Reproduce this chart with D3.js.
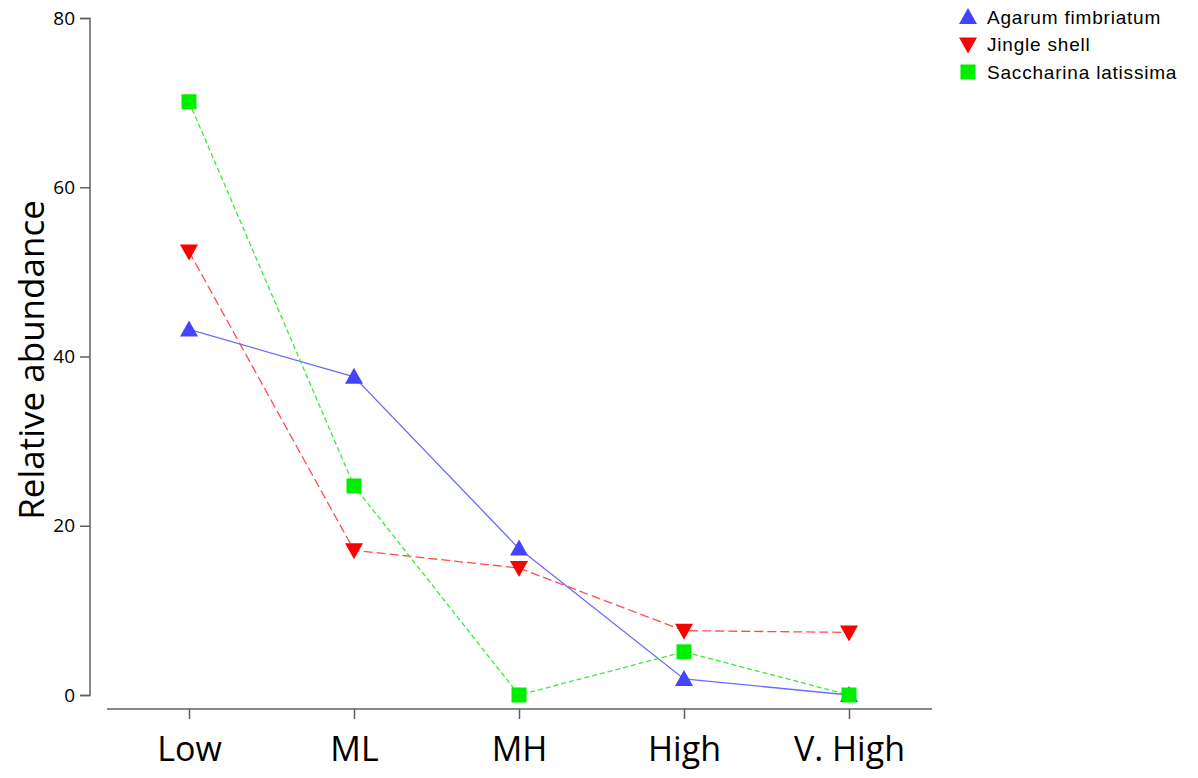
<!DOCTYPE html>
<html><head><meta charset="utf-8">
<script src="https://cdn.jsdelivr.net/npm/d3@7"></script>
<style>body{margin:0;background:#fff}svg{display:block}</style>
</head><body>
<svg id="c" width="1198" height="778"></svg>
<script>
const categories = ["Low", "ML", "MH", "High", "V. High"];
const agarum = [43.2, 37.6, 17.3, 1.9, 0];
const jingle = [52.4, 17.1, 15.0, 7.6, 7.4];
const saccharina = [70.1, 24.7, 0, 5.1, 0];
const yTicks = [0, 20, 40, 60, 80];
const seriesNames = ["Agarum fimbriatum", "Jingle shell", "Saccharina latissima"];

const svg = d3.select("#c");
const x = d3.scalePoint().domain(categories).range([189, 849]);
const y = d3.scaleLinear().domain([0, 80]).range([695, 18]);

const axisColor = "#606060";
const font = "'Segoe UI','Open Sans',sans-serif";
// Y axis
const ya = svg.append("g").attr("transform", "translate(90,0)")
  .call(d3.axisLeft(y).tickValues(yTicks).tickSize(10).tickPadding(5));
ya.select(".domain").attr("stroke", axisColor).attr("stroke-width", 1.5).attr("d", "M-10,18.5H0V695.5H-10");
ya.selectAll(".tick line").attr("stroke", axisColor).attr("stroke-width", 1.5);
ya.selectAll(".tick text").attr("font-family", font).attr("font-size", 19).attr("fill", "#000");

// X axis
const xa = svg.append("g").attr("transform", "translate(0,709)")
  .call(d3.axisBottom(x).tickSize(10).tickPadding(18));
xa.select(".domain").attr("stroke", axisColor).attr("stroke-width", 1.5).attr("d", "M107,0H932");
xa.selectAll(".tick line").attr("stroke", axisColor).attr("stroke-width", 1.5);
xa.selectAll(".tick text").attr("font-family", font).attr("font-size", 34).attr("fill", "#000").attr("dy", "0.72em");

// Y title
svg.append("text").attr("transform", "translate(30,360) rotate(-90)")
  .attr("text-anchor", "middle").attr("dominant-baseline", "central").attr("font-family", font)
  .attr("font-size", 35).attr("fill", "#000").text("Relative abundance");

const series = [
  {name: seriesNames[0], vals: agarum, color: "#4444ff", line: "#6b6bff", dash: null, sym: "up"},
  {name: seriesNames[1], vals: jingle, color: "#ff0000", line: "#ff4c4c", dash: "9,4", sym: "down"},
  {name: seriesNames[2], vals: saccharina, color: "#00ee00", line: "#33ee33", dash: "5,3", sym: "sq"}
];
const line = d3.line().x((d, i) => x(categories[i])).y(d => y(d));

function marker(g, sym, color) {
  if (sym === "up") g.append("path").attr("d", "M0,-9L9,7H-9Z").attr("fill", color);
  else if (sym === "down") g.append("path").attr("d", "M0,9L9,-7H-9Z").attr("fill", color);
  else g.append("rect").attr("x", -7.5).attr("y", -7.5).attr("width", 15).attr("height", 15).attr("fill", color);
}

series.forEach(s => {
  svg.append("path").datum(s.vals).attr("d", line).attr("fill", "none")
    .attr("stroke", s.line).attr("stroke-width", 1.3)
    .attr("stroke-dasharray", s.dash);
});
series.forEach(s => {
  s.vals.forEach((v, i) => {
    const g = svg.append("g").attr("transform", `translate(${x(categories[i])},${y(v)})`);
    marker(g, s.sym, s.color);
  });
});

// Legend
series.forEach((s, i) => {
  const gy = 17 + i * 27.5;
  const g = svg.append("g").attr("transform", `translate(968,${gy})`);
  marker(g, s.sym, s.color);
  svg.append("text").attr("x", 987).attr("y", gy).attr("dy", "0.35em")
    .attr("font-family", "Arial,'Liberation Sans',sans-serif").attr("font-size", 19)
    .attr("letter-spacing", 0.8).attr("fill", "#000").text(s.name);
});
</script>
</body></html>
